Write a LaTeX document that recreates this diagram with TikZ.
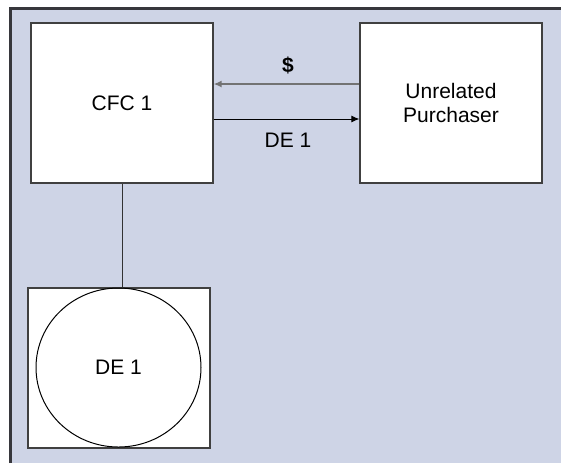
\documentclass[tikz,border=0pt]{standalone}
\usepackage{fontspec}
\setmainfont{Liberation Sans}
\usetikzlibrary{arrows.meta,shapes.geometric}
\definecolor{panel}{RGB}{206,212,230}
\definecolor{frameline}{RGB}{55,55,60}
\begin{document}
\begin{tikzpicture}[x=0.5pt,y=-0.5pt,
  font=\fontsize{10.5}{12}\selectfont,
  entity/.style={draw=black!75,line width=0.6pt,fill=white,minimum width=91pt,minimum height=80pt,align=center},
  owned/.style={draw=black,line width=0.5pt,ellipse,minimum width=82.5pt,minimum height=79.5pt,inner sep=0pt},
  cashflow/.style={draw=black!55,line width=1pt,-{Latex[length=4pt,width=3.5pt]}},
  shareflow/.style={draw=black,line width=0.5pt,-{Latex[length=4pt,width=3.5pt]}}]
\useasboundingbox (0,0) rectangle (561,463);
\fill[panel] (10,8) rectangle (561,463);
\draw[frameline,line width=1.5pt] (10,463) -- (10,8) -- (561,8);
\node[entity] (cfc) at (122,103) {CFC 1};
\node[entity] (buyer) at (451,103) {Unrelated\\Purchaser};
\node[entity] (de) at (119,368) {};
\node[owned] (dec) at (118.5,367.5) {DE 1};
\draw[black!80,line width=0.5pt] (cfc.south) -- (cfc.south |- de.north);
\draw[cashflow] ([yshift=9.5pt]buyer.west) -- ([yshift=9.5pt]cfc.east);
\draw[shareflow] ([yshift=-8pt]cfc.east) -- ([yshift=-8pt]buyer.west);
\node[font=\fontsize{10.5}{12}\selectfont\bfseries] (cash) at (288,65) {\$};
\node (share) at (288,140) {DE 1};
\end{tikzpicture}
\end{document}
